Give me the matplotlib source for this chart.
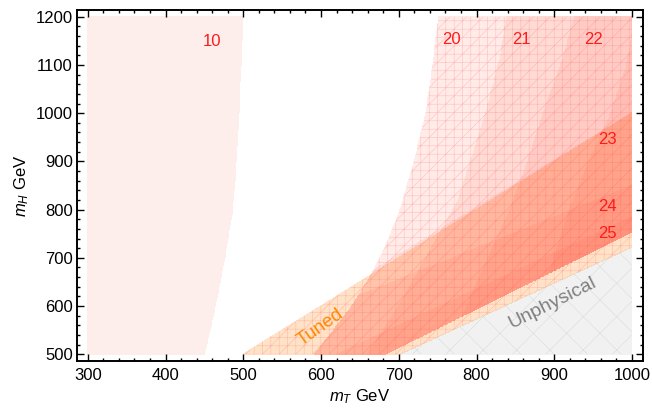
import numpy as np
import matplotlib.pyplot as plt
from matplotlib.ticker import MultipleLocator

plt.rcParams['font.family'] = ['Liberation Sans', 'DejaVu Sans']
plt.rcParams['mathtext.fontset'] = 'custom'
plt.rcParams['mathtext.rm'] = 'Liberation Sans'
plt.rcParams['mathtext.it'] = 'Liberation Sans:italic'
plt.rcParams['hatch.linewidth'] = 0.4

# left edges of the exclusion regions: m_T (GeV) as a function of m_H (GeV)
mh_10 = [500, 600, 700, 800, 900, 1000, 1100, 1200]
mt_10 = [450, 464, 476, 486, 491, 494, 497, 499]
mh_20 = [500, 600, 668, 731, 800, 900, 1000, 1100, 1200]
mt_20 = [592, 640, 666, 685, 702, 720, 735, 744, 751]
mh_21 = [500, 600, 700, 758, 814, 862, 1000, 1111, 1200]
mt_21 = [660, 700, 735, 755, 775, 785, 812, 830, 839]
mh_22 = [500, 700, 800, 900, 1000, 1111, 1200]
mt_22 = [760, 815, 843, 866, 886, 911, 926]
mh_far = [500, 800, 900, 993, 1097, 1160]
mt_far = [860, 920, 945, 971, 993, 1000]

# straight edges: m_H as a function of m_T, at m_T = 300 and 1000
mt_line = [300, 1000]
mh_23 = [314, 1001]
mh_24 = [395, 850]
mh_25 = [260, 785]
mh_low = [194, 754]
mh_tuned = [300, 1000]
mh_unphys = [201, 722]

labels = ['10', '20', '21', '22', '23', '24', '25']
label_mt = [460, 768, 858, 950, 969, 969, 969]
label_mh = [1149, 1153, 1153, 1153, 945, 806, 751]

X, Y = np.meshgrid(np.linspace(300, 1000, 701), np.linspace(500, 1200, 701))
low = Y >= np.interp(X, mt_line, mh_low)
right20 = X >= np.interp(Y, mh_20, mt_20)

regions = [
    right20 & low,
    (X >= np.interp(Y, mh_21, mt_21)) & low,
    (X >= np.interp(Y, mh_22, mt_22)) & low,
    (X >= np.interp(Y, mh_far, mt_far)) & low,
    (Y <= np.interp(X, mt_line, mh_23)) & right20 & low,
    (Y <= np.interp(X, mt_line, mh_24)) & right20 & low,
    (Y <= np.interp(X, mt_line, mh_25)) & right20 & low,
]
unphys = Y <= np.interp(X, mt_line, mh_unphys)
tuned = (Y <= np.interp(X, mt_line, mh_tuned)) & ~unphys
r10 = X <= np.interp(Y, mh_10, mt_10)
anyred = np.any(regions, axis=0)

fig = plt.figure(figsize=(6.52, 4.09), dpi=100)
ax = fig.add_axes([0.118, 0.1174, 0.868, 0.8582])

ax.contourf(X, Y, r10.astype(float), levels=[0.5, 1.5], colors=['#fdedeb'],
            antialiased=False)
ax.contourf(X, Y, unphys.astype(float), levels=[0.5, 1.5], colors=['#f1f1f1'])
with plt.rc_context({'hatch.color': (0.6, 0.6, 0.6, 0.25)}):
    ax.contourf(X, Y, unphys.astype(float), levels=[0.5, 1.5], colors='none',
                hatches=['x'])
ax.contourf(X, Y, tuned.astype(float), levels=[0.5, 1.5], colors=['#ffa955'],
            alpha=0.32)
for m in regions:
    ax.contourf(X, Y, m.astype(float), levels=[0.5, 1.5], colors=['#ff5a45'],
                alpha=0.115)
with plt.rc_context({'hatch.color': (1.0, 0.3, 0.3, 0.3)}):
    ax.contourf(X, Y, (anyred | tuned).astype(float), levels=[0.5, 1.5],
                colors='none', hatches=['++//'])

for t, x, y in zip(labels, label_mt, label_mh):
    ax.text(x, y, t, color='#ff1a1a', fontsize=12, ha='center', va='center')

ax.text(599, 556, 'Tuned', color='#ff8800', fontsize=13.5, rotation=35,
        ha='center', va='center')
ax.text(898, 606, 'Unphysical', color='#7f7f7f', fontsize=14, rotation=26.5,
        ha='center', va='center')

ax.set_xlim(286, 1014)
ax.set_ylim(486, 1214)
ax.set_xticks(range(300, 1001, 100))
ax.set_yticks(range(500, 1201, 100))
ax.xaxis.set_minor_locator(MultipleLocator(20))
ax.yaxis.set_minor_locator(MultipleLocator(20))
ax.tick_params(which='both', direction='in', top=True, right=True,
               labelsize=12, width=1)
ax.tick_params(which='major', length=5)
ax.tick_params(which='minor', length=2.5)
ax.tick_params(axis='x', pad=5)
ax.tick_params(axis='y', pad=3)
for s in ax.spines.values():
    s.set_linewidth(1.4)

ax.set_xlabel('$m_T$ GeV', fontsize=12, labelpad=3)
ax.set_ylabel('$m_H$ GeV', fontsize=12, labelpad=3)

plt.savefig('out.png', dpi=100)
